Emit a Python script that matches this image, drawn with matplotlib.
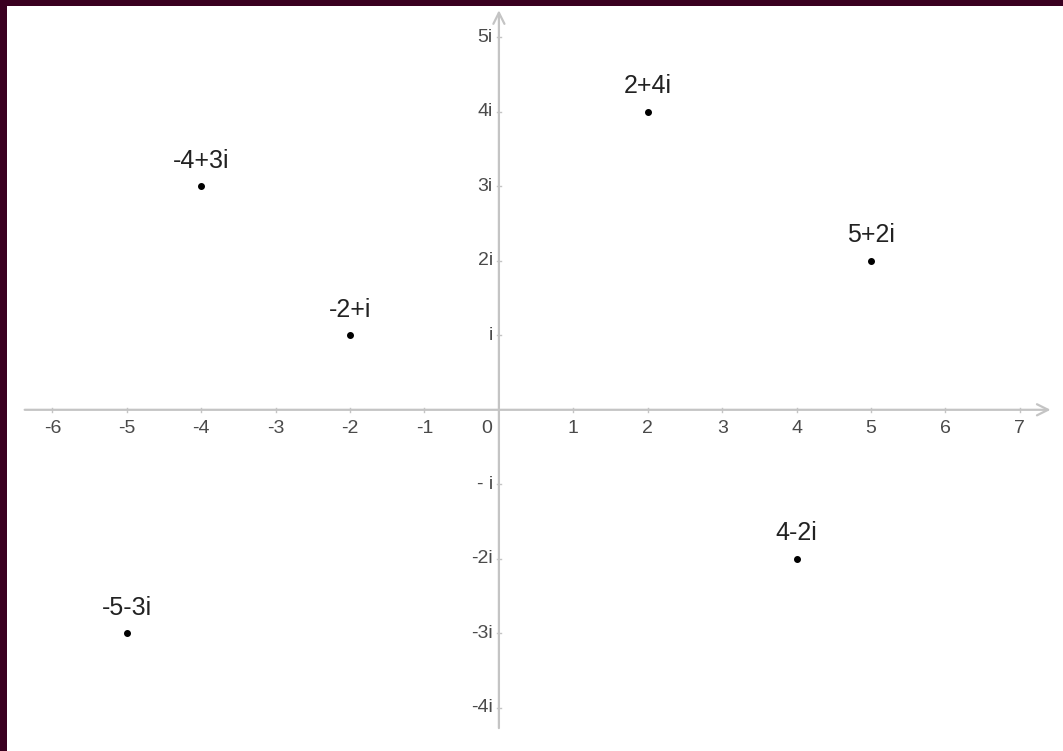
import matplotlib
matplotlib.use("Agg")
import matplotlib.pyplot as plt

# complex numbers shown on the plane
re_parts = [2, -4, -2, 5, 4, -5]
im_parts = [4, 3, 1, 2, -2, -3]
labels = ["2+4i", "-4+3i", "-2+i", "5+2i", "4-2i", "-5-3i"]

x_ticks = [-6, -5, -4, -3, -2, -1, 0, 1, 2, 3, 4, 5, 6, 7]
y_ticks = [5, 4, 3, 2, 1, -1, -2, -3, -4]
y_tick_labels = ["5i", "4i", "3i", "2i", "i", "- i", "-2i", "-3i", "-4i"]

plt.rcParams['font.family'] = ['Liberation Sans', 'DejaVu Sans']

fig = plt.figure(figsize=(10.63, 7.51), dpi=100, facecolor="#3a0020")
ax = fig.add_axes([7 / 1063, 0, 1056 / 1063, 745 / 751])
ax.set_facecolor("white")
ax.set_xlim(-6.61, 7.58)
ax.set_ylim(-4.58, 5.42)
for s in ax.spines.values():
    s.set_visible(False)
ax.set_xticks([])
ax.set_yticks([])

axis_col = "#c4c4c4"
# real and imaginary axes with open arrow heads
ax.annotate("", xy=(7.45, 0), xytext=(-6.41, 0),
            arrowprops=dict(arrowstyle="->", color=axis_col, lw=1.6, mutation_scale=20))
ax.annotate("", xy=(0, 5.4), xytext=(0, -4.31),
            arrowprops=dict(arrowstyle="->", color=axis_col, lw=1.6, mutation_scale=20))

# tick labels
tick_col = "#4a4a4a"
for t in x_ticks:
    if t == 0:
        ax.text(-0.16, -0.25, "0", ha="center", va="center", fontsize=14, color=tick_col)
    else:
        ax.plot([t, t], [-0.03, 0.03], color=axis_col, lw=1)
        ax.text(t, -0.25, str(t), ha="center", va="center", fontsize=14, color=tick_col)
for t, lab in zip(y_ticks, y_tick_labels):
    ax.plot([-0.03, 0.03], [t, t], color=axis_col, lw=1)
    ax.text(-0.08, t, lab, ha="right", va="center", fontsize=14, color=tick_col)

# points and their labels
ax.plot(re_parts, im_parts, "o", color="black", markersize=4)
for x, y, lab in zip(re_parts, im_parts, labels):
    ax.text(x, y + 0.34, lab, ha="center", va="center", fontsize=18, color="#222222")

fig.savefig("out.png", dpi=100, facecolor=fig.get_facecolor())
